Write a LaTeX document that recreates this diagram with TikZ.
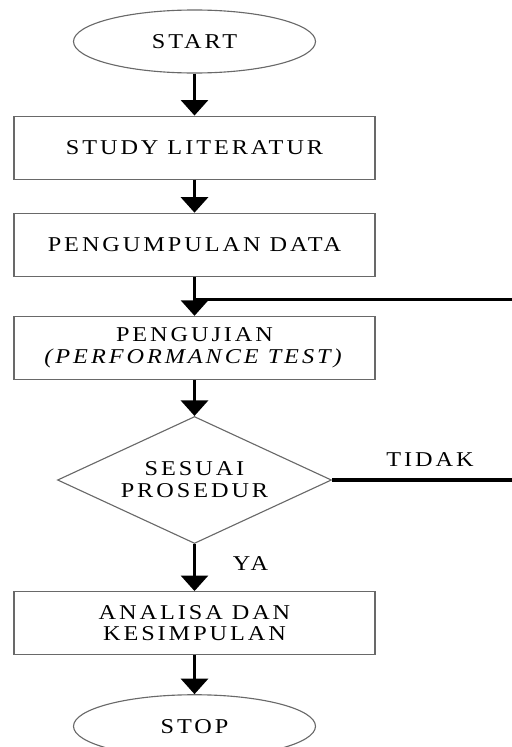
\documentclass[tikz,border=0pt]{standalone}
\usepackage{fontspec}
\setmainfont{Liberation Serif}[LetterSpace=14,FakeStretch=1.15]
\usepackage{tikz}
\usetikzlibrary{positioning,arrows.meta,shapes.geometric,calc}
\usepackage{xcolor}
\definecolor{garisabu}{RGB}{105,105,105}

\newcommand{\alurfont}{\fontsize{15}{15.6}\selectfont}

\tikzset{
  kotak/.style={rectangle,draw=garisabu,line width=0.8pt,align=center,
    font=\alurfont,minimum width=9.025cm,minimum height=1.575cm},
  terminal/.style={ellipse,draw=garisabu,line width=0.8pt,
    font=\alurfont,minimum width=6.05cm,minimum height=1.575cm},
  keputusan/.style={diamond,draw=garisabu,line width=0.8pt,align=center,
    font=\alurfont,aspect=2.16,inner sep=0pt,
    minimum width=6.85cm,minimum height=3.175cm},
  panah/.style={line width=2.6pt,-{Triangle[width=19pt,length=11pt]}},
  garistebal/.style={line width=2.2pt}
}

\begin{document}
\begin{tikzpicture}
\useasboundingbox (0,0) rectangle (12.8,-18.675);
\coordinate (kanan) at (12.8,0);

\node[terminal] (mulai) at (4.8625,-1.0375) {START};
\node[kotak,below=1.05cm of mulai] (studi) {STUDY LITERATUR};
\node[kotak,below=0.825cm of studi] (kumpul) {PENGUMPULAN DATA};
\node[kotak,below=0.975cm of kumpul] (uji) {PENGUJIAN\\\textit{(PERFORMANCE TEST)}};
\node[keputusan,below=0.9cm of uji] (sesuai) {SESUAI\\PROSEDUR};
\node[kotak,below=1.175cm of sesuai] (analisa) {ANALISA DAN\\KESIMPULAN};
\node[terminal,below=0.975cm of analisa] (selesai) {STOP};

\node[font=\alurfont] (tidak) at ($(sesuai.east)+(2.45,0.5)$) {TIDAK};
\node[font=\alurfont] (ya) at ($(sesuai.south)+(1.4,-0.475)$) {YA};

\draw[panah] (mulai) -- (studi);
\draw[panah] (studi) -- (kumpul);
\draw[panah] (kumpul) -- (uji);
\draw[panah] (uji) -- (sesuai);
\draw[panah] (sesuai) -- (analisa);
\draw[panah] (analisa) -- (selesai);

% garis kembali dari TIDAK
\coordinate (masuk) at ($(kumpul.south)!0.59!(uji.north)$);
\draw[garistebal] (masuk -| kanan) -- (masuk);
\draw[garistebal] (sesuai.east) -- (sesuai.east -| kanan);
\end{tikzpicture}
\end{document}
